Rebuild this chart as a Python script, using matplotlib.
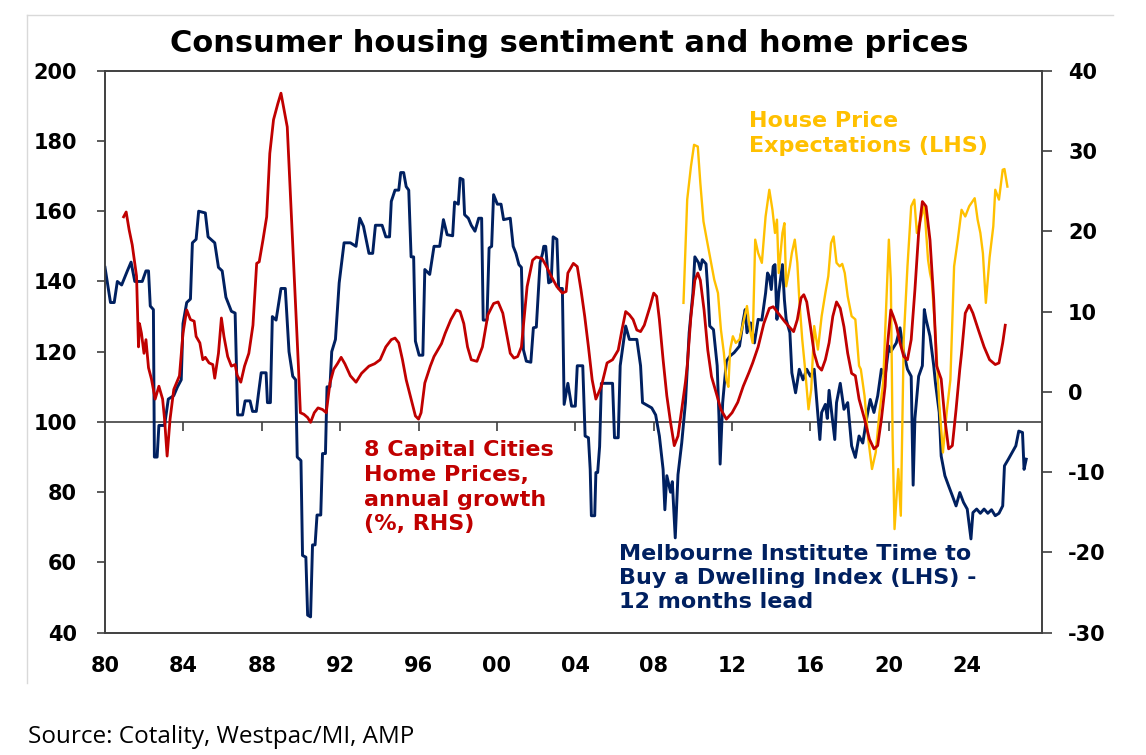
import matplotlib
matplotlib.use("Agg")
import matplotlib.pyplot as plt
from matplotlib.lines import Line2D

# Melbourne Institute time to buy a dwelling index (LHS), shifted 12 months
navy_year = [1980.00, 1980.28, 1980.47, 1980.63, 1980.85, 1981.14, 1981.33, 1981.52, 1981.90, 1982.09,
             1982.22, 1982.31, 1982.47, 1982.52, 1982.66, 1982.75, 1983.04, 1983.23, 1983.51, 1983.70,
             1983.89, 1983.98, 1984.17, 1984.36, 1984.46, 1984.65, 1984.78, 1985.12, 1985.26, 1985.60,
             1985.79, 1985.98, 1986.17, 1986.45, 1986.64, 1986.77, 1987.02, 1987.15, 1987.40, 1987.53,
             1987.72, 1987.83, 1987.97, 1988.22, 1988.29, 1988.44, 1988.54, 1988.73, 1988.98, 1989.20,
             1989.39, 1989.58, 1989.73, 1989.81, 1990.00, 1990.08, 1990.25, 1990.34, 1990.49, 1990.59,
             1990.72, 1990.82, 1991.01, 1991.10, 1991.25, 1991.33, 1991.48, 1991.57, 1991.76, 1991.95,
             1992.20, 1992.52, 1992.81, 1993.00, 1993.19, 1993.47, 1993.66, 1993.80, 1994.14, 1994.33,
             1994.52, 1994.61, 1994.80, 1994.99, 1995.09, 1995.24, 1995.37, 1995.50, 1995.62, 1995.75,
             1995.84, 1996.03, 1996.22, 1996.32, 1996.57, 1996.79, 1997.08, 1997.27, 1997.46, 1997.74,
             1997.84, 1998.03, 1998.12, 1998.27, 1998.35, 1998.54, 1998.69, 1998.88, 1999.07, 1999.22,
             1999.30, 1999.49, 1999.60, 1999.73, 1999.83, 2000.02, 2000.21, 2000.34, 2000.68, 2000.83,
             2000.97, 2001.12, 2001.25, 2001.35, 2001.50, 2001.73, 2001.86, 2002.01, 2002.20, 2002.33,
             2002.39, 2002.49, 2002.64, 2002.77, 2002.87, 2003.06, 2003.15, 2003.34, 2003.43, 2003.62,
             2003.81, 2004.00, 2004.10, 2004.38, 2004.50, 2004.67, 2004.76, 2004.82, 2004.99, 2005.05,
             2005.14, 2005.24, 2005.33, 2005.90, 2006.00, 2006.19, 2006.29, 2006.57, 2006.76, 2007.14,
             2007.33, 2007.43, 2007.90, 2008.10, 2008.29, 2008.48, 2008.57, 2008.67, 2008.86, 2008.95,
             2009.10, 2009.24, 2009.43, 2009.62, 2009.81, 2010.00, 2010.10, 2010.29, 2010.38, 2010.48,
             2010.67, 2010.76, 2010.86, 2011.05, 2011.24, 2011.33, 2011.39, 2011.52, 2011.71, 2011.90,
             2012.10, 2012.38, 2012.57, 2012.67, 2012.76, 2012.95, 2013.14, 2013.33, 2013.52, 2013.71,
             2013.81, 2013.90, 2014.00, 2014.10, 2014.19, 2014.29, 2014.38, 2014.57, 2014.67, 2014.76,
             2014.95, 2015.05, 2015.24, 2015.43, 2015.62, 2015.81, 2016.00, 2016.19, 2016.48, 2016.57,
             2016.76, 2016.86, 2016.95, 2017.24, 2017.33, 2017.52, 2017.71, 2017.90, 2018.10, 2018.29,
             2018.48, 2018.67, 2018.86, 2019.05, 2019.24, 2019.43, 2019.62, 2019.81, 2020.00, 2020.10,
             2020.38, 2020.57, 2020.76, 2020.95, 2021.14, 2021.24, 2021.33, 2021.52, 2021.71, 2021.81,
             2021.90, 2022.10, 2022.29, 2022.38, 2022.57, 2022.67, 2022.86, 2023.05, 2023.24, 2023.43,
             2023.62, 2023.81, 2024.00, 2024.19, 2024.29, 2024.48, 2024.67, 2024.86, 2025.05, 2025.24,
             2025.43, 2025.62, 2025.81, 2025.90, 2026.10, 2026.29, 2026.48, 2026.63, 2026.82, 2026.90,
             2027.01]
navy_val = [144, 134, 134, 140, 139, 143, 145.5, 140, 140, 143,
            143, 133, 132, 90, 90, 99, 99, 106.5, 107.5, 110,
            112, 128, 134, 135, 151, 152, 160, 159.5, 152.7, 151,
            144, 143, 135.5, 131.5, 131, 102, 102, 106, 106, 103,
            103, 108, 114, 114, 105.5, 105.5, 130, 129, 138, 138,
            120, 113, 112, 90, 89, 62, 61.5, 45, 44.5, 65,
            65, 73.5, 73.5, 91, 91, 110, 110, 120, 123.5, 139.6,
            151, 151, 150, 158, 155.7, 148, 148, 156, 156, 152.7,
            152.7, 162.8, 166, 166, 171, 171, 167, 166, 147, 147,
            123, 119, 119, 143.4, 142, 150, 150, 157.6, 153.3, 153,
            162.6, 162, 169.4, 169, 159, 158, 156, 154.3, 158, 158,
            129, 129, 149.5, 150, 164.7, 162, 162, 157.6, 158, 150,
            148, 144.8, 144, 120.6, 117.3, 117, 126.8, 127, 145.3, 148,
            150, 150, 139.6, 140, 152.7, 152, 138, 138, 105, 111,
            104.5, 104.5, 116, 116, 96, 95.5, 86.5, 73.3, 73.3, 85.6,
            85.6, 93, 111, 111, 95.5, 95.5, 116, 127.3, 123.5, 123.5,
            116, 105.5, 104, 102, 96, 86.5, 75, 84.7, 80, 83,
            67, 85, 94, 105.5, 125.4, 136.7, 147, 145.3, 143.4, 146.2,
            145, 137.7, 127.3, 126.3, 116, 101.7, 88, 105.5, 117.3, 118.8,
            119.7, 121.6, 129, 132, 125.4, 128.2, 122.5, 129.2, 129, 136.7,
            142.4, 141.5, 137.7, 144.3, 144.8, 129.2, 136.7, 144.8, 134.8, 129.2,
            125.4, 114, 108.3, 115, 112, 115, 113, 115, 95, 102.7,
            105, 101, 109, 95, 105.5, 111, 103.6, 105.5, 93.2, 89.9,
            96, 94, 100.8, 106.4, 102.7, 107.4, 115, 113, 121.6, 120,
            122.5, 126.8, 119.7, 115, 113, 82, 101, 113, 116, 132,
            129.2, 124.4, 116, 111, 102.7, 90.3, 84.7, 81.8, 79, 76.1,
            79.9, 77.1, 75.2, 66.7, 74.2, 75.2, 74, 75.2, 74, 75,
            73.3, 74, 76.1, 87.5, 89.4, 91.3, 93.2, 97.4, 97, 86.5,
            89.4]

# 8 capital cities home prices, annual growth % (RHS)
red_year = [1980.95, 1981.08, 1981.23, 1981.39, 1981.61, 1981.71, 1981.76, 1981.86, 1981.99, 1982.09,
            1982.22, 1982.37, 1982.56, 1982.75, 1982.94, 1983.04, 1983.17, 1983.32, 1983.51, 1983.80,
            1983.98, 1984.17, 1984.36, 1984.55, 1984.65, 1984.84, 1984.99, 1985.12, 1985.31, 1985.50,
            1985.60, 1985.79, 1985.94, 1986.07, 1986.26, 1986.45, 1986.64, 1986.74, 1986.93, 1987.12,
            1987.34, 1987.55, 1987.74, 1987.87, 1988.06, 1988.25, 1988.41, 1988.60, 1988.82, 1988.98,
            1989.11, 1989.30, 1989.49, 1989.68, 1989.87, 1989.97, 1990.15, 1990.34, 1990.49, 1990.68,
            1990.87, 1991.10, 1991.29, 1991.48, 1991.67, 1991.86, 1992.05, 1992.24, 1992.52, 1992.81,
            1993.09, 1993.47, 1993.76, 1994.04, 1994.33, 1994.61, 1994.80, 1994.99, 1995.18, 1995.37,
            1995.66, 1995.84, 1996.00, 1996.13, 1996.32, 1996.60, 1996.79, 1996.98, 1997.17, 1997.36,
            1997.65, 1997.93, 1998.12, 1998.31, 1998.50, 1998.69, 1998.98, 1999.26, 1999.54, 1999.83,
            2000.06, 2000.30, 2000.49, 2000.68, 2000.87, 2001.06, 2001.25, 2001.54, 2001.82, 2002.01,
            2002.30, 2002.49, 2002.77, 2003.06, 2003.34, 2003.53, 2003.62, 2003.90, 2004.10, 2004.29,
            2004.48, 2004.67, 2004.86, 2005.05, 2005.33, 2005.62, 2005.90, 2006.19, 2006.38, 2006.57,
            2006.76, 2006.95, 2007.14, 2007.33, 2007.52, 2007.81, 2008.00, 2008.15, 2008.29, 2008.48,
            2008.67, 2008.86, 2009.05, 2009.24, 2009.43, 2009.62, 2009.71, 2009.90, 2010.10, 2010.25,
            2010.38, 2010.57, 2010.76, 2010.95, 2011.14, 2011.43, 2011.71, 2012.00, 2012.29, 2012.57,
            2012.86, 2013.05, 2013.33, 2013.62, 2013.90, 2014.10, 2014.29, 2014.48, 2014.67, 2014.95,
            2015.14, 2015.33, 2015.52, 2015.66, 2015.81, 2016.00, 2016.19, 2016.38, 2016.57, 2016.76,
            2016.95, 2017.14, 2017.33, 2017.52, 2017.71, 2017.90, 2018.10, 2018.29, 2018.48, 2018.76,
            2019.01, 2019.24, 2019.43, 2019.62, 2019.81, 2019.90, 2020.10, 2020.23, 2020.38, 2020.57,
            2020.76, 2020.95, 2021.14, 2021.33, 2021.52, 2021.71, 2021.90, 2022.10, 2022.29, 2022.44,
            2022.67, 2022.86, 2023.05, 2023.24, 2023.43, 2023.62, 2023.71, 2023.90, 2024.10, 2024.29,
            2024.57, 2024.86, 2025.14, 2025.43, 2025.62, 2025.81, 2025.94]
red_val = [21.8, 22.4, 20.2, 18.3, 14.4, 5.6, 8.5, 7.3, 4.8, 6.5,
           3.0, 1.6, -0.9, 0.7, -0.9, -3.4, -8.0, -3.4, 0.3, 2.0,
           7.3, 10.2, 9.0, 8.8, 6.9, 6.1, 4.0, 4.3, 3.6, 3.4,
           1.7, 4.8, 9.2, 6.9, 4.4, 3.2, 3.4, 2.1, 1.2, 3.2,
           4.8, 8.3, 16.0, 16.2, 18.9, 21.8, 29.7, 33.9, 35.9, 37.2,
           35.5, 33.0, 23.0, 13.1, 3.2, -2.6, -2.8, -3.2, -3.8, -2.6,
           -2.0, -2.2, -2.6, 1.1, 2.8, 3.5, 4.3, 3.5, 2.0, 1.2,
           2.3, 3.2, 3.5, 4.0, 5.6, 6.5, 6.7, 6.1, 4.0, 1.5,
           -1.3, -3.0, -3.4, -2.6, 1.1, 3.2, 4.4, 5.2, 6.0, 7.3,
           9.0, 10.2, 10.0, 8.5, 5.6, 4.0, 3.8, 5.6, 9.6, 11.0,
           11.2, 9.8, 7.3, 4.8, 4.2, 4.4, 5.6, 13.1, 16.4, 16.8,
           16.6, 15.8, 14.4, 13.1, 12.3, 12.5, 14.8, 16.0, 15.6, 12.7,
           9.4, 5.6, 1.5, -0.9, 0.7, 3.6, 4.0, 5.2, 7.7, 10.0,
           9.6, 9.0, 7.7, 7.5, 8.3, 10.6, 12.3, 11.9, 9.0, 4.0,
           -0.5, -3.8, -6.7, -5.5, -2.2, 1.2, 3.2, 9.4, 13.9, 14.8,
           13.9, 10.2, 5.2, 1.9, 0.3, -2.2, -3.4, -2.6, -1.3, 0.7,
           2.4, 3.6, 5.6, 8.5, 10.4, 10.6, 10.0, 9.4, 8.8, 8.0,
           7.5, 9.0, 11.7, 12.1, 11.2, 8.1, 4.8, 3.2, 2.7, 4.0,
           6.1, 9.4, 11.2, 10.4, 8.1, 4.8, 2.3, 2.0, -0.9, -3.4,
           -5.9, -7.1, -6.7, -3.4, 0.7, 5.0, 10.2, 9.4, 8.3, 6.1,
           4.4, 4.0, 6.5, 12.7, 19.8, 23.7, 23.1, 18.9, 11.5, 3.2,
           1.6, -3.4, -7.1, -6.7, -2.2, 2.8, 4.8, 9.8, 10.8, 9.8,
           7.7, 5.6, 4.0, 3.4, 3.6, 6.1, 8.3]

# House price expectations (LHS)
gold_year = [2009.52, 2009.71, 2009.90, 2010.06, 2010.25, 2010.38, 2010.54, 2010.71, 2010.90, 2011.09,
             2011.28, 2011.43, 2011.58, 2011.71, 2011.81, 2011.90, 2012.04, 2012.19, 2012.38, 2012.61,
             2012.76, 2012.91, 2013.05, 2013.18, 2013.33, 2013.52, 2013.71, 2013.90, 2014.06, 2014.19,
             2014.29, 2014.38, 2014.57, 2014.67, 2014.76, 2014.95, 2015.05, 2015.20, 2015.33, 2015.43,
             2015.58, 2015.71, 2015.90, 2016.04, 2016.19, 2016.38, 2016.57, 2016.76, 2016.91, 2017.05,
             2017.18, 2017.33, 2017.49, 2017.62, 2017.75, 2017.90, 2018.10, 2018.29, 2018.48, 2018.57,
             2018.76, 2018.95, 2019.14, 2019.33, 2019.52, 2019.71, 2019.81, 2020.00, 2020.10, 2020.19,
             2020.29, 2020.48, 2020.61, 2020.76, 2020.95, 2021.14, 2021.30, 2021.43, 2021.62, 2021.81,
             2022.00, 2022.10, 2022.19, 2022.38, 2022.57, 2022.76, 2022.95, 2023.14, 2023.33, 2023.52,
             2023.71, 2023.90, 2024.10, 2024.38, 2024.53, 2024.67, 2024.80, 2024.95, 2025.14, 2025.33,
             2025.43, 2025.62, 2025.81, 2025.90, 2026.05]
gold_val = [133.9, 163.3, 172.7, 178.9, 178.4, 168, 157.1, 151.9, 146.2, 140.5,
            136.7, 126.3, 119.7, 112, 110, 120.6, 124.4, 122.5, 123.5, 129.2,
            133, 126.3, 122.5, 151.9, 148.1, 145.3, 158.5, 166.1, 160.4, 153.8,
            157.6, 142.4, 153.8, 156.6, 138.6, 144.3, 148.1, 151.9, 145.3, 134.8,
            123.5, 116, 103.6, 109.3, 127.3, 120.6, 130.1, 136.7, 141.5, 150.9,
            152.8, 145.3, 144.3, 145, 142.4, 135.8, 130.1, 129.2, 116, 115,
            107.4, 95.1, 86.6, 91.3, 102.7, 111.2, 125.4, 151.9, 140.5, 96,
            69.5, 86.6, 73.3, 123.5, 144.3, 161.4, 163.3, 153.8, 157.6, 161.4,
            146.2, 142.4, 140, 125, 105.5, 91.3, 102.7, 112, 144.3, 151.9,
            160.4, 158.5, 161.4, 163.7, 157.6, 153.8, 148, 133.9, 146.8, 155.7,
            166.1, 163.3, 171.8, 172, 167]

x_ticks = [1980, 1984, 1988, 1992, 1996, 2000, 2004, 2008, 2012, 2016, 2020, 2024]
x_labels = ["80", "84", "88", "92", "96", "00", "04", "08", "12", "16", "20", "24"]

NAVY = "#002060"
RED = "#C00000"
GOLD = "#FFC000"
AXCOL = "#404040"

plt.rcParams["font.family"] = "DejaVu Sans"
plt.rcParams["axes.unicode_minus"] = False

fig = plt.figure(figsize=(11.46, 7.55), dpi=100)
ax = fig.add_axes([105 / 1146, 1 - 632.7 / 755, (1041.7 - 105) / 1146, (632.7 - 70.7) / 755])
ax2 = ax.twinx()

ax.plot(navy_year, navy_val, color=NAVY, lw=2.1, zorder=3)
ax.plot(gold_year, gold_val, color=GOLD, lw=1.7, zorder=4)
ax2.plot(red_year, red_val, color=RED, lw=2.0, zorder=5)

ax.set_xlim(1980, 2027.8)
ax.set_ylim(40, 200)
ax2.set_ylim(-30, 40)
ax.set_yticks(range(40, 201, 20))
ax2.set_yticks(range(-30, 41, 10))
ax.set_xticks(x_ticks)
ax.set_xticklabels(x_labels)

# horizontal axis line at 100 with tick marks hanging below
ax.axhline(100, color=AXCOL, lw=1.2, zorder=2)
ax.vlines(x_ticks[1:], 97.4, 100, color=AXCOL, lw=1.2, zorder=2)

for a in (ax, ax2):
    for s in a.spines.values():
        s.set_color(AXCOL)
        s.set_linewidth(1.2)
ax.tick_params(axis="y", length=6, width=1.2, color=AXCOL, pad=14, labelsize=15)
ax2.tick_params(axis="y", length=7, width=1.2, color=AXCOL, pad=12, labelsize=15)
ax.tick_params(axis="x", length=0, pad=17, labelsize=15)
for lab in ax.get_xticklabels() + ax.get_yticklabels() + ax2.get_yticklabels():
    lab.set_fontweight("bold")

ax2.set_zorder(ax.get_zorder() + 1)
ax2.patch.set_visible(False)

fig.text(0.497, 1 - 44 / 755, "Consumer housing sentiment and home prices",
         ha="center", va="center", fontsize=22, fontweight="bold")

fig.text(749 / 1146, 1 - 111 / 755, "House Price\nExpectations (LHS)", color=GOLD,
         fontsize=16, fontweight="bold", ha="left", va="top", linespacing=1.3)
fig.text(364 / 1146, 1 - 440 / 755, "8 Capital Cities\nHome Prices,\nannual growth\n(%, RHS)",
         color=RED, fontsize=16, fontweight="bold", ha="left", va="top", linespacing=1.3)
fig.text(619 / 1146, 1 - 544 / 755, "Melbourne Institute Time to\nBuy a Dwelling Index (LHS) -\n12 months lead",
         color=NAVY, fontsize=16, fontweight="bold", ha="left", va="top", linespacing=1.25)

fig.text(28 / 1146, 1 - 743 / 755, "Source: Cotality, Westpac/MI, AMP",
         fontsize=17.5, family="Open Sans", ha="left", va="baseline")

# light frame around the chart area (top and left edges)
fig.add_artist(Line2D([27 / 1146, 1113 / 1146], [1 - 15 / 755, 1 - 15 / 755], color="#D9D9D9", lw=1))
fig.add_artist(Line2D([27 / 1146, 27 / 1146], [1 - 15 / 755, 1 - 683 / 755], color="#D9D9D9", lw=1))

fig.savefig("out.png", dpi=100)
